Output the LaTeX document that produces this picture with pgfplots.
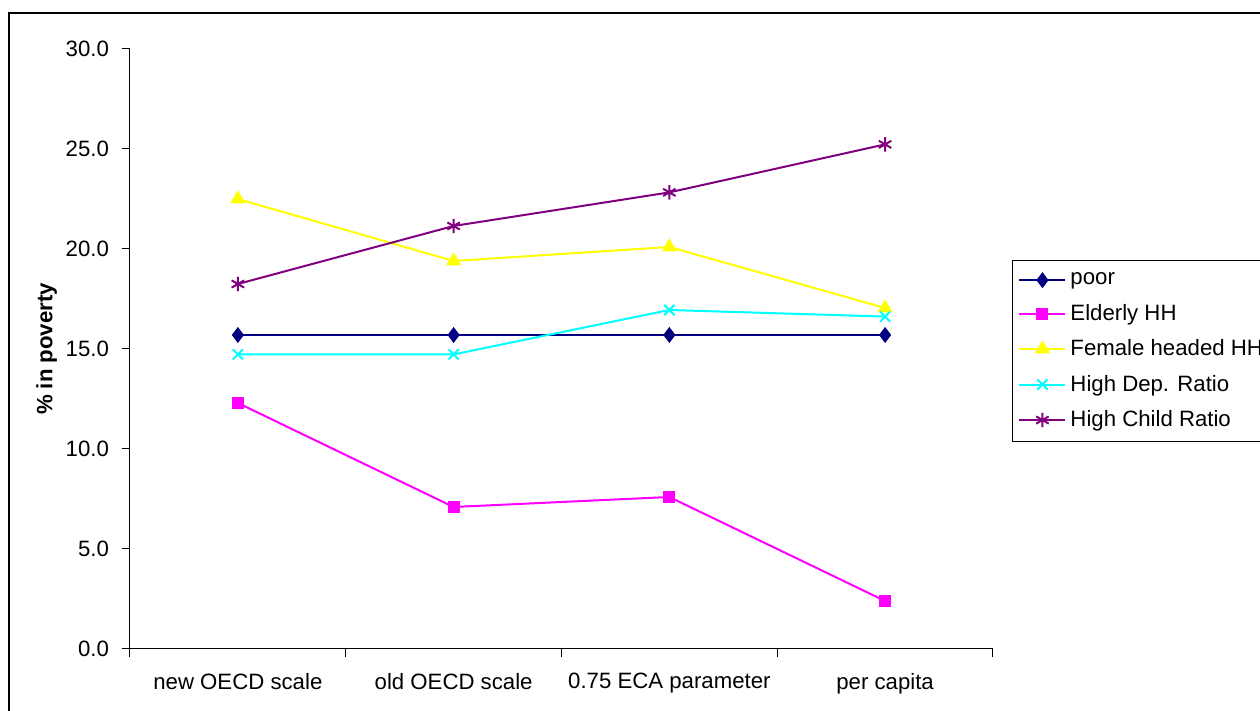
\documentclass[border=0pt]{standalone}
\usepackage{pgfplots}
\pgfplotsset{compat=1.18}
\usepackage{fontspec}
\setmainfont{Liberation Sans}
\definecolor{cpoor}{RGB}{0,0,128}
\definecolor{celder}{RGB}{255,0,255}
\definecolor{cfem}{RGB}{255,255,0}
\definecolor{cdep}{RGB}{0,255,255}
\definecolor{cchild}{RGB}{128,0,128}
\newcommand{\cf}{\fontsize{11.1}{13}\selectfont}
\begin{document}
\begin{tikzpicture}[x=1pt,y=1pt]
\useasboundingbox (0,0) rectangle (630,355.5);
\draw[black,line width=0.6pt] (4.5,-2) -- (4.5,349) -- (640,349);
\begin{axis}[
  at={(65pt,31pt)}, anchor=south west,
  scale only axis, width=431.5pt, height=300pt,
  xmin=0.5, xmax=4.5, ymin=0, ymax=30,
  axis x line=bottom, axis y line=left,
  axis line style={-, black, line width=0.5pt},
  xtick={1,2,3,4},
  xticklabels={new OECD scale, old OECD scale, 0.75 ECA parameter, per capita},
  major x tick style={draw=none},
  minor xtick={0.5,1.5,2.5,3.5,4.5},
  minor tick length=4pt,
  ytick={0,5,...,30},
  major tick length=4pt,
  tick align=outside,
  tick style={black, line width=0.5pt},
  /pgf/number format/fixed,
  /pgf/number format/fixed zerofill,
  /pgf/number format/precision=1,
  /pgf/number format/assume math mode=true,
  yticklabel style={xshift=-3pt},
  xticklabel style={yshift=-4.5pt},
  ticklabel style={font=\cf},
  ylabel={\textbf{\% in poverty}},
  ylabel style={font=\cf, at={(ticklabel cs:0.5)}, xshift=0pt, yshift=-2.5pt},
  legend style={at={(1.022,0.648)}, anchor=north west, draw=black, line width=0.5pt,
    font=\cf, row sep=4.2pt, inner xsep=3pt, inner ysep=4pt,
    cells={anchor=west}},
  legend image code/.code={\draw[mark repeat=2,mark phase=2] plot coordinates {(0pt,0pt) (11.5pt,0pt) (23pt,0pt)};},
  legend cell align=left,
  clip=false,
]
\addplot[cpoor, line width=1pt, mark=diamond*, mark size=3.2pt, mark options={solid, fill=cpoor}]
  coordinates {(1,15.7) (2,15.7) (3,15.7) (4,15.7)};
\addlegendentry{poor}
\addplot[celder, line width=1pt, mark=square*, mark size=2.5pt, mark options={solid, fill=celder}]
  coordinates {(1,12.3) (2,7.1) (3,7.6) (4,2.4)};
\addlegendentry{Elderly HH}
\addplot[cfem, line width=1pt, mark=triangle*, mark size=3.4pt, mark options={solid, fill=cfem}]
  coordinates {(1,22.5) (2,19.4) (3,20.1) (4,17.05)};
\addlegendentry{Female headed HH}
\addplot[cdep, line width=1pt, mark=x, mark size=3.6pt, mark options={solid}]
  coordinates {(1,14.73) (2,14.73) (3,16.95) (4,16.62)};
\addlegendentry{High Dep. Ratio}
\addplot[cchild, line width=1pt, mark=asterisk, mark size=3.6pt, mark options={solid}]
  coordinates {(1,18.25) (2,21.15) (3,22.83) (4,25.23)};
\addlegendentry{High Child Ratio}
\end{axis}
\end{tikzpicture}
\end{document}
